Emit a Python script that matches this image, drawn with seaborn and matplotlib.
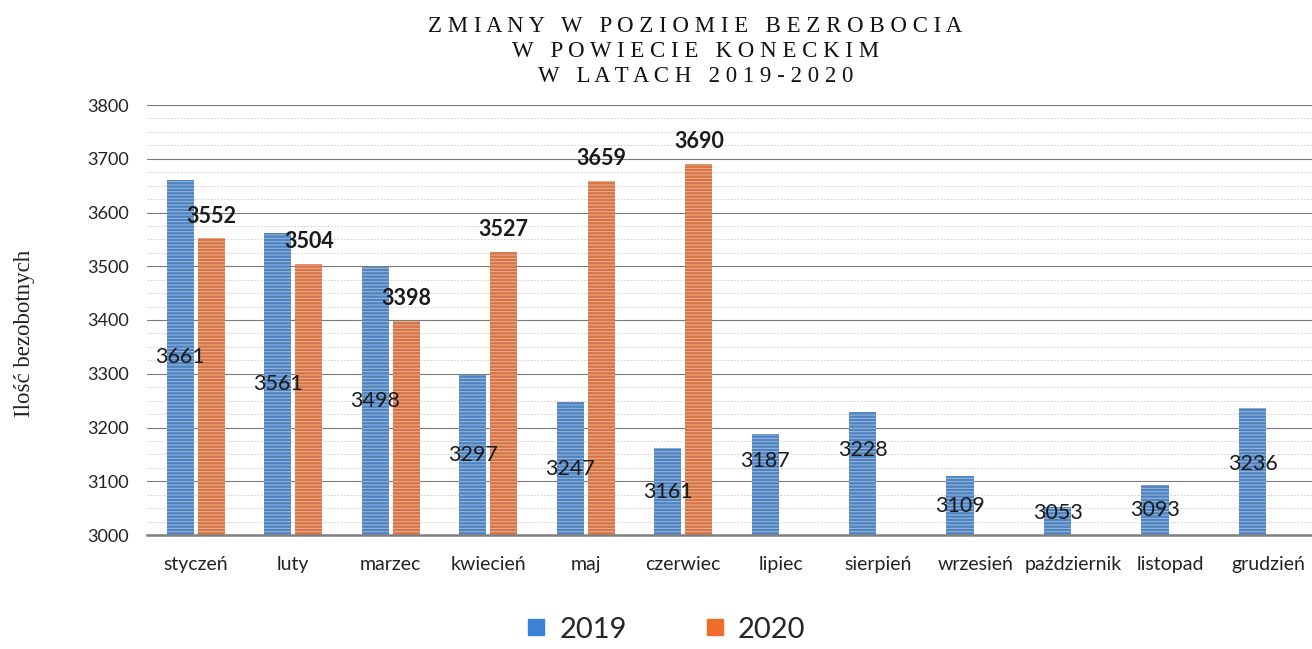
import matplotlib

matplotlib.use("Agg")

import matplotlib.pyplot as plt
import pandas as pd
import seaborn as sns
from matplotlib.lines import Line2D
from matplotlib.ticker import MultipleLocator


MONTHS = [
    "styczeń", "luty", "marzec", "kwiecień", "maj", "czerwiec",
    "lipiec", "sierpień", "wrzesień", "październik", "listopad", "grudzień",
]
VALUES_2019 = [3661, 3561, 3498, 3297, 3247, 3161, 3187, 3228, 3109, 3053, 3093, 3236]
VALUES_2020 = [3552, 3504, 3398, 3527, 3659, 3690]
YEARS = ["2019", "2020"]

TITLE = "ZMIANY W POZIOMIE BEZROBOCIA\nW POWIECIE KONECKIM\nW LATACH 2019-2020"
Y_LABEL = "Ilość bezobotnych"

COLORS = {"2019": "#3b82d4", "2020": "#f06c2a"}
# labels for 2019 sit mid-bar, a few were nudged by hand in the original
LABEL_NUDGE_2019 = {"lipiec": 45, "sierpień": 45, "grudzień": 15, "październik": 15}


def spaced(text):
    lines = []
    for line in text.split("\n"):
        words = [" ".join(word) for word in line.split(" ")]
        lines.append("   ".join(words))
    return "\n".join(lines)


def build_frame():
    rows = []
    for month, val in zip(MONTHS, VALUES_2019):
        rows.append({"month": month, "year": "2019", "value": val})
    for month, val in zip(MONTHS, VALUES_2020):
        rows.append({"month": month, "year": "2020", "value": val})
    return pd.DataFrame(rows)


def main():
    sns.set_theme(style="white")
    plt.rcParams["font.family"] = ["Lato", "DejaVu Sans"]
    plt.rcParams["hatch.linewidth"] = 0.7

    df = build_frame()
    fig = plt.figure(figsize=(13.12, 6.49), dpi=100)
    ax = fig.add_axes([147 / 1312, 1 - 535 / 649, 1 - 147 / 1312, 430 / 649])

    sns.barplot(
        data=df, x="month", y="value", hue="year", order=MONTHS, hue_order=YEARS,
        palette=COLORS, width=0.64, gap=0.13, legend=False, ax=ax,
    )
    for patch in ax.patches:
        patch.set_hatch("-----")
        patch.set_edgecolor((1, 1, 1, 0.45))
        patch.set_linewidth(0)

    ax.set_ylim(3000, 3800)
    ax.set_xlim(-0.5, 11.45)
    ax.yaxis.set_major_locator(MultipleLocator(100))
    ax.yaxis.set_minor_locator(MultipleLocator(25))
    ax.grid(axis="y", which="major", color="#7a7a7a", linewidth=0.8)
    ax.grid(axis="y", which="minor", color="#c8c8c8", linewidth=0.6, linestyle=(0, (2, 2)))
    ax.set_axisbelow(True)
    for side in ["left", "right", "top"]:
        ax.spines[side].set_visible(False)
    ax.spines["bottom"].set_color("#808080")
    ax.spines["bottom"].set_linewidth(1.8)
    ax.tick_params(axis="x", length=0, labelsize=14, colors="#222222", pad=15)
    ax.tick_params(axis="y", length=0, labelsize=13, colors="#222222", pad=13)
    ax.set_xlabel("")
    ax.set_ylabel("")

    bars_2019, bars_2020 = ax.containers[0], ax.containers[1]
    for month, bar, val in zip(MONTHS, bars_2019, VALUES_2019):
        y = (3000 + val) / 2 + LABEL_NUDGE_2019.get(month, 0)
        ax.text(bar.get_x() + bar.get_width() / 2, y, str(val), ha="center", va="center",
                fontsize=15.5, color="#1a1a1a")
    for bar, val in zip(bars_2020, VALUES_2020):
        ax.annotate(str(val), (bar.get_x() + bar.get_width() / 2, val), xytext=(0, 16),
                    textcoords="offset points", ha="center", va="center",
                    fontsize=15.5, fontweight="bold", color="#1a1a1a")

    fig.text(0.53, 0.92, spaced(TITLE), ha="center", va="center", fontsize=16.5,
             family=["Liberation Serif", "DejaVu Serif"], linespacing=1.25, color="#111111")
    fig.text(0.019, 0.487, Y_LABEL, rotation=90, ha="center", va="center", fontsize=16.5,
             family=["Liberation Serif", "DejaVu Serif"], color="#222222")

    handles = [
        Line2D([], [], marker="s", linestyle="none", markersize=12, color=COLORS[y]) for y in YEARS
    ]
    fig.legend(handles, YEARS, loc="center", bbox_to_anchor=(0.507, 0.03), ncol=2,
               frameon=False, fontsize=21, handletextpad=0.4, columnspacing=2.6,
               handlelength=0.8, borderpad=0.1)

    fig.savefig("out.png", dpi=100)
    plt.close(fig)


if __name__ == "__main__":
    main()
